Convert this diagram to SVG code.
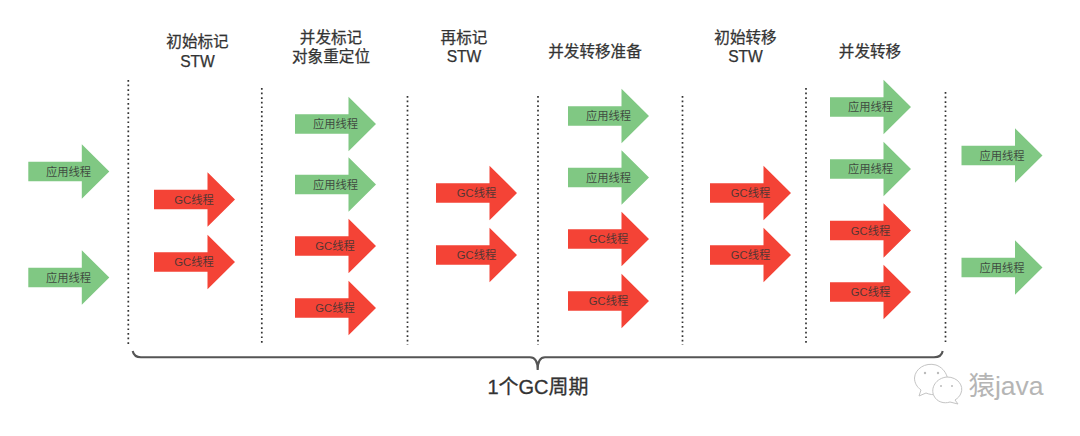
<svg xmlns="http://www.w3.org/2000/svg" width="1080" height="436" viewBox="0 0 1080 436">
<style>
text{font-family:"Liberation Sans","Noto Sans CJK SC",sans-serif;text-anchor:middle}
.h{font-size:15.6px;fill:#333;stroke:#333;stroke-width:.25}
.l{font-size:11.3px;fill:#333;fill-opacity:.85}
.g{fill:#80c883}
.r{fill:#f44336}
.d{fill:none;stroke:#333;stroke-width:1.7;stroke-dasharray:1.7 2.9}
.b{fill:none;stroke:#555;stroke-width:2.1}
</style>
<defs>
<path id="a" d="M0-9.700H53.500V-27.200L81 0 53.500 27.200V9.700H0Z"/>
</defs>
<rect width="1080" height="436" fill="#fff"/>
<g id="connectors">
<path class="d" d="M128.300 80V346"/>
<path class="d" d="M261.800 88V345"/>
<path class="d" d="M407.500 96V345"/>
<path class="d" d="M538 96V345"/>
<path class="d" d="M682.500 96V345"/>
<path class="d" d="M806 88V345"/>
<path class="d" d="M945.500 92V345"/>
<path class="b" d="M132.700 351C133.500 355 136 357.300 141 357.300H530C534.500 357.300 537.700 361 537.700 370C537.700 361 541 357.300 545 357.300H934C939 357.300 942 355 942.700 351"/>
</g>
<g id="headers">
<text class="h" x="197.500" y="47">初始标记</text><text class="h" x="197.500" y="66.500">STW</text>
<text class="h" x="331" y="43">并发标记</text><text class="h" x="331" y="62">对象重定位</text>
<text class="h" x="464" y="43">再标记</text><text class="h" x="464" y="62">STW</text>
<text class="h" x="595" y="57">并发转移准备</text>
<text class="h" x="745.500" y="43">初始转移</text><text class="h" x="745.500" y="62">STW</text>
<text class="h" x="870" y="57">并发转移</text>
</g>
<g id="n1"><use href="#a" class="g" x="28.300" y="171.500"/><text class="l" x="68.500" y="175.500">应用线程</text></g>
<g id="n2"><use href="#a" class="g" x="28.300" y="277.500"/><text class="l" x="68.500" y="281.500">应用线程</text></g>
<g id="n3"><use href="#a" class="r" x="154" y="199.500"/><text class="l" x="194" y="203.500">GC线程</text></g>
<g id="n4"><use href="#a" class="r" x="154" y="262"/><text class="l" x="194" y="266">GC线程</text></g>
<g id="n5"><use href="#a" class="g" x="295" y="124"/><text class="l" x="335.500" y="128">应用线程</text></g>
<g id="n6"><use href="#a" class="g" x="295" y="184.500"/><text class="l" x="335.500" y="188.500">应用线程</text></g>
<g id="n7"><use href="#a" class="r" x="295" y="246"/><text class="l" x="335" y="250">GC线程</text></g>
<g id="n8"><use href="#a" class="r" x="295" y="308"/><text class="l" x="335" y="312">GC线程</text></g>
<g id="n9"><use href="#a" class="r" x="436" y="193"/><text class="l" x="476.500" y="197">GC线程</text></g>
<g id="n10"><use href="#a" class="r" x="436" y="255"/><text class="l" x="476.500" y="259">GC线程</text></g>
<g id="n11"><use href="#a" class="g" x="568" y="116"/><text class="l" x="608.500" y="120">应用线程</text></g>
<g id="n12"><use href="#a" class="g" x="568" y="177.500"/><text class="l" x="608.500" y="181.500">应用线程</text></g>
<g id="n13"><use href="#a" class="r" x="568" y="239"/><text class="l" x="608.500" y="243">GC线程</text></g>
<g id="n14"><use href="#a" class="r" x="568" y="301"/><text class="l" x="608.500" y="305">GC线程</text></g>
<g id="n15"><use href="#a" class="r" x="710" y="193"/><text class="l" x="750.500" y="197">GC线程</text></g>
<g id="n16"><use href="#a" class="r" x="710" y="255"/><text class="l" x="750.500" y="259">GC线程</text></g>
<g id="n17"><use href="#a" class="g" x="830" y="107"/><text class="l" x="870.500" y="111">应用线程</text></g>
<g id="n18"><use href="#a" class="g" x="830" y="169"/><text class="l" x="870.500" y="173">应用线程</text></g>
<g id="n19"><use href="#a" class="r" x="830" y="230.500"/><text class="l" x="870.500" y="234.500">GC线程</text></g>
<g id="n20"><use href="#a" class="r" x="830" y="292"/><text class="l" x="870.500" y="296">GC线程</text></g>
<g id="n21"><use href="#a" class="g" x="961.500" y="155.500"/><text class="l" x="1002" y="159.500">应用线程</text></g>
<g id="n22"><use href="#a" class="g" x="961.500" y="267.500"/><text class="l" x="1002" y="271.500">应用线程</text></g>
<text x="538" y="394" style="font-size:20px;fill:#333;stroke:#333;stroke-width:.3">1个GC周期</text>
<g id="watermark" fill="#fff" stroke="#c4c4c4" stroke-width="1">
<path d="M921 390L919 396 926 393C933 396 941 395 945 390 951 382 947 369 936 365 925 362 915 369 914.500 378 914.500 383 917 387 921 390Z"/>
<path d="M955 400L958 404 950 402C944 404 937 402 934 396 930 388 936 378 947 377 958 377 964 386 961 393 960 396 958 398 955 400Z"/>
<g fill="#bbb" stroke="none"><circle cx="925" cy="373" r="1.200"/><circle cx="938" cy="373" r="1.200"/><circle cx="941" cy="386" r="1"/><circle cx="952" cy="386" r="1"/></g>
<text x="1006" y="395" stroke="none" fill="#b5b5b5" style="font-size:26.500px">猿java</text>
</g>
</svg>
